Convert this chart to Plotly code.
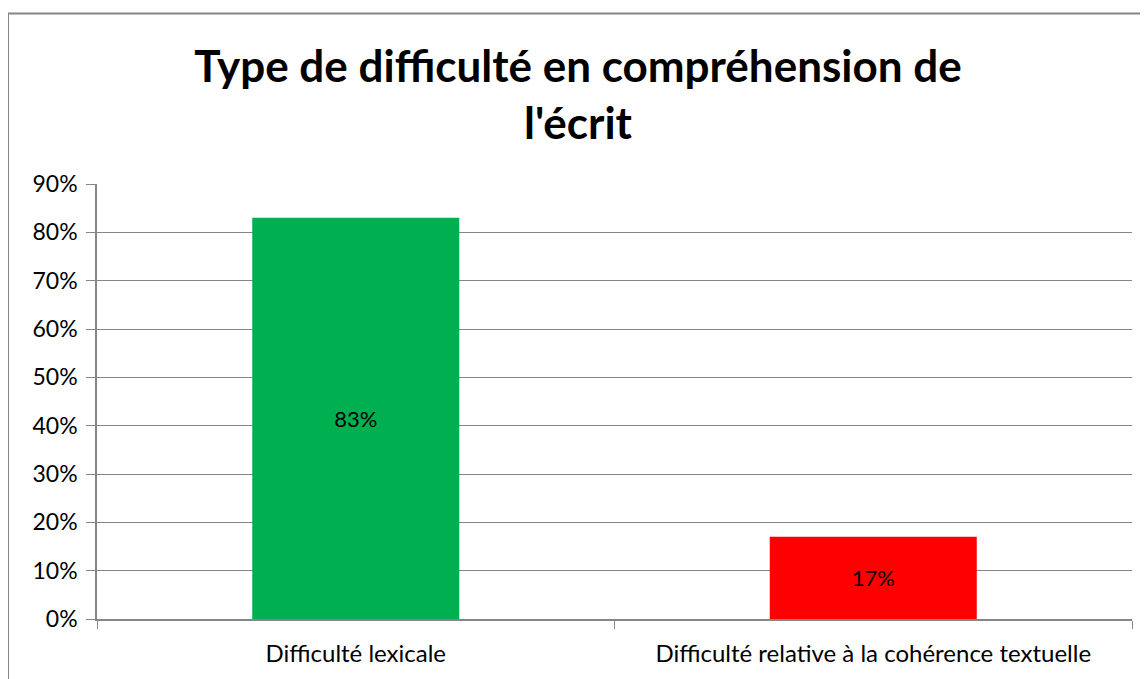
import plotly.graph_objects as go

# donnees
categories = ["Difficulté lexicale", "Difficulté relative à la cohérence textuelle"]
valeurs = [0.83, 0.17]
couleurs = ["#00B050", "#FF0000"]
y_ticks = [0, 0.1, 0.2, 0.3, 0.4, 0.5, 0.6, 0.7, 0.8, 0.9]

FONT = "Lato, Calibri, 'Open Sans', sans-serif"
GRIS = "#868686"

fig = go.Figure(go.Bar(
    x=categories,
    y=valeurs,
    marker=dict(color=couleurs, line=dict(width=0)),
    texttemplate="%{y:.0%}",
    textposition="inside",
    insidetextanchor="middle",
    textangle=0,
    textfont=dict(family=FONT, size=22, color="black"),
    hoverinfo="skip",
))

fig.update_layout(
    width=1148, height=679,
    margin=dict(l=89, r=24, t=176, b=68),
    paper_bgcolor="white", plot_bgcolor="white",
    bargap=0.6,
    showlegend=False,
    title=dict(
        text="Type de difficulté en compréhension de<br>l'écrit",
        x=570 / 1148, xanchor="center", xref="container",
        y=1 - 74 / 679, yanchor="middle", yref="container",
        font=dict(family=FONT, size=44, color="black", weight="bold"),
    ),
    font=dict(family=FONT, size=22, color="black"),
)

fig.update_yaxes(
    range=[0, 0.9], tickvals=y_ticks, tickformat=".0%",
    showgrid=True, gridcolor=GRIS, gridwidth=1,
    showline=True, linecolor=GRIS, linewidth=1.5,
    ticks="outside", ticklen=9, tickcolor=GRIS,
    zeroline=False, ticklabelstandoff=4,
    tickfont=dict(size=23),
)
fig.update_xaxes(
    showline=True, linecolor=GRIS, linewidth=1.5,
    ticks="outside", ticklen=8, tickcolor=GRIS,
    tickson="boundaries", showgrid=False,
    ticklabelstandoff=12,
    tickfont=dict(size=24),
)

# cadre du graphique
fig.add_shape(type="rect", xref="paper", yref="paper",
              x0=-89 / 1035, x1=1.2, y0=-0.4, y1=(611 - 5.5) / 435,
              line=dict(color=GRIS, width=2), layer="below")

fig.write_html("out.html")
